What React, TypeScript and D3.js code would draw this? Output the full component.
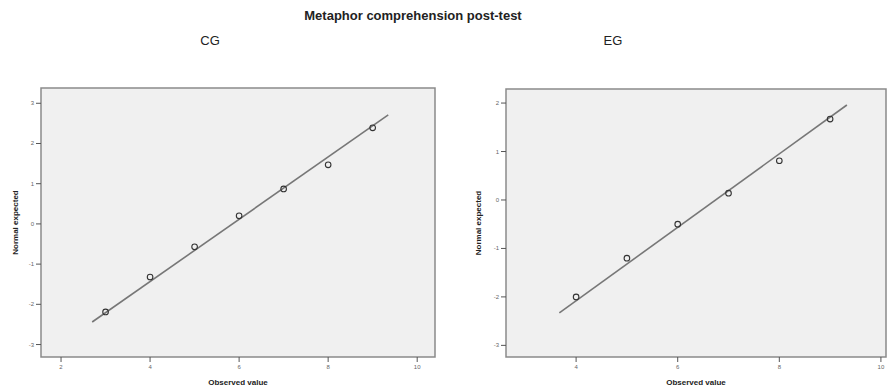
import React from "react";
import * as d3 from "d3";

// CG panel
const cgObserved = [3, 4, 5, 6, 7, 8, 9];
const cgExpected = [-2.19, -1.32, -0.57, 0.2, 0.87, 1.47, 2.39];
const cgLine = [
  { x: 2.7, y: -2.44 },
  { x: 9.35, y: 2.71 },
];
const cgXTicks = [2, 4, 6, 8, 10];
const cgYTicks = [3, 2, 1, 0, -1, -2, -3];

// EG panel
const egObserved = [4, 5, 6, 7, 8, 9];
const egExpected = [-2.0, -1.2, -0.5, 0.14, 0.81, 1.67];
const egLine = [
  { x: 3.67, y: -2.33 },
  { x: 9.33, y: 1.96 },
];
const egXTicks = [4, 6, 8, 10];
const egYTicks = [2, 1, 0, -1, -2, -3];

const FONT = "Liberation Sans, Arial, sans-serif";

type Pt = { x: number; y: number };

const Panel = ({
  box,
  xDomain,
  yDomain,
  xTicks,
  yTicks,
  observed,
  expected,
  line,
  label,
  labelX,
  yTitleX,
}: {
  box: { left: number; right: number; top: number; bottom: number };
  xDomain: [number, number];
  yDomain: [number, number];
  xTicks: number[];
  yTicks: number[];
  observed: number[];
  expected: number[];
  line: Pt[];
  label: string;
  labelX: number;
  yTitleX: number;
}) => {
  const x = d3.scaleLinear().domain(xDomain).range([box.left, box.right]);
  const y = d3.scaleLinear().domain(yDomain).range([box.bottom, box.top]);
  const path = d3
    .line<Pt>()
    .x((d) => x(d.x))
    .y((d) => y(d.y))(line);
  const midY = (box.top + box.bottom) / 2;
  const midX = (box.left + box.right) / 2;

  return (
    <g>
      <text x={labelX} y={45} fontFamily={FONT} fontSize={13} fill="#222" textAnchor="middle">
        {label}
      </text>
      <rect
        x={box.left}
        y={box.top}
        width={box.right - box.left}
        height={box.bottom - box.top}
        fill="#f0f0f0"
        stroke="#8a8a8a"
        strokeWidth={1.5}
      />
      {yTicks.map((t) => (
        <g key={"y" + t}>
          <line x1={box.left - 5} x2={box.left} y1={y(t)} y2={y(t)} stroke="#555" strokeWidth={1} />
          <text
            x={box.left - 7}
            y={y(t) + 2}
            fontFamily={FONT}
            fontSize={6}
            fill="#666"
            textAnchor="end"
          >
            {t}
          </text>
        </g>
      ))}
      {xTicks.map((t) => (
        <g key={"x" + t}>
          <line x1={x(t)} x2={x(t)} y1={box.bottom} y2={box.bottom + 5} stroke="#555" strokeWidth={1} />
          <text x={x(t)} y={box.bottom + 12} fontFamily={FONT} fontSize={6} fill="#666" textAnchor="middle">
            {t}
          </text>
        </g>
      ))}
      <path d={path ?? ""} fill="none" stroke="#777" strokeWidth={1.6} />
      {observed.map((v, i) => (
        <circle
          key={i}
          cx={x(v)}
          cy={y(expected[i])}
          r={2.8}
          fill="none"
          stroke="#333"
          strokeWidth={1.1}
        />
      ))}
      <text
        transform={`translate(${yTitleX},${midY}) rotate(-90)`}
        fontFamily={FONT}
        fontSize={8}
        fontWeight="bold"
        fill="#222"
        textAnchor="middle"
      >
        Normal expected
      </text>
      <text x={midX} y={385} fontFamily={FONT} fontSize={8} fontWeight="bold" fill="#222" textAnchor="middle">
        Observed value
      </text>
    </g>
  );
};

export default function App() {
  return (
    <svg
      width={890}
      height={391}
      style={{ position: "absolute", left: 0, top: 0, background: "#fff" }}
    >
      <text
        x={413}
        y={20}
        fontFamily={FONT}
        fontSize={13}
        fontWeight="bold"
        fill="#222"
        textAnchor="middle"
      >
        Metaphor comprehension post-test
      </text>
      <Panel
        box={{ left: 41, right: 435, top: 88, bottom: 357 }}
        xDomain={[1.55, 10.4]}
        yDomain={[-3.31, 3.38]}
        xTicks={cgXTicks}
        yTicks={cgYTicks}
        observed={cgObserved}
        expected={cgExpected}
        line={cgLine}
        label="CG"
        labelX={210}
        yTitleX={18}
      />
      <Panel
        box={{ left: 506, right: 886, top: 89, bottom: 357 }}
        xDomain={[2.62, 10.1]}
        yDomain={[-3.24, 2.29]}
        xTicks={egXTicks}
        yTicks={egYTicks}
        observed={egObserved}
        expected={egExpected}
        line={egLine}
        label="EG"
        labelX={613}
        yTitleX={481}
      />
    </svg>
  );
}
